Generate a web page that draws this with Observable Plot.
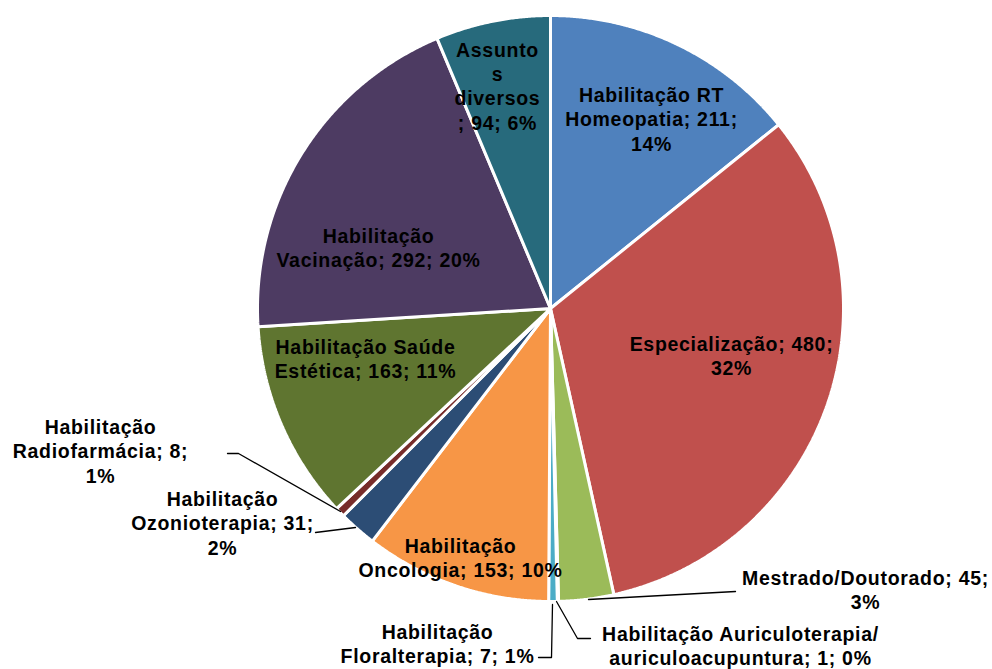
<!DOCTYPE html>
<html><head><meta charset="utf-8">
<script src="https://cdn.jsdelivr.net/npm/d3@7"></script>
<script src="https://cdn.jsdelivr.net/npm/@observablehq/plot@0.6"></script>
<style>body{margin:0;background:#fff}</style>
</head><body><div id="chart"></div>
<script>
const categories = ["Habilitação RT Homeopatia","Especialização","Mestrado/Doutorado","Habilitação Auriculoterapia/ auriculoacupuntura","Habilitação Floralterapia","Habilitação Oncologia","Habilitação Ozonioterapia","Habilitação Radiofarmácia","Habilitação Saúde Estética","Habilitação Vacinação","Assuntos diversos"];
const values = [211,480,45,1,7,153,31,8,163,292,94];
const percents = ["14%","32%","3%","0%","1%","10%","2%","1%","11%","20%","6%"];
const colors = ["#4F81BD","#C0504D","#9BBB59","#8064A2","#4BACC6","#F79646","#2C4D75","#772C2A","#5F7530","#4D3B62","#276A7C"];
// label text as wrapped in the chart
const labelTexts = [
  "Habilitação RT\nHomeopatia; 211;\n14%",
  "Especialização; 480;\n32%",
  "Mestrado/Doutorado; 45;\n3%",
  "Habilitação Auriculoterapia/\nauriculoacupuntura; 1; 0%",
  "Habilitação\nFloralterapia; 7; 1%",
  "Habilitação\nOncologia; 153; 10%",
  "Habilitação\nOzonioterapia; 31;\n2%",
  "Habilitação\nRadiofarmácia; 8;\n1%",
  "Habilitação Saúde\nEstética; 163; 11%",
  "Habilitação\nVacinação; 292; 20%",
  "Assunto\ns\ndiversos\n; 94; 6%"
];

// layout
const W = 992, H = 669, CX = 550, CY = 308, R = 293;
const labelPos = [[651,118],[731,355],[865,589],[740,645],[437,643],[460,557],[222,522],[100,450],[365,358],[378,247],[497,85]];
const leaders = [
  [[588,599],[735,591]],
  [[556,601],[577,638],[590,638]],
  [[552,604],[551,657],[538,657]],
  [[355,527],[315,532]],
  [[340,511],[238,453],[227,453]]
];

const pie = d3.pie().sort(null).value(d => d)(values);
const slicePts = [];
pie.forEach((a, i) => {
  slicePts.push({x: CX, y: CY, k: i});
  const n = Math.max(2, Math.ceil((a.endAngle - a.startAngle) / 0.005));
  for (let j = 0; j <= n; j++) {
    const t = a.startAngle + (a.endAngle - a.startAngle) * j / n;
    slicePts.push({x: CX + R * Math.sin(t), y: CY - R * Math.cos(t), k: i});
  }
  slicePts.push({x: CX, y: CY, k: i});
});
const leaderPts = leaders.flatMap((l, i) => l.map(p => ({x: p[0], y: p[1], k: i})));
const labels = labelTexts.map((t, i) => ({x: labelPos[i][0], y: labelPos[i][1], t}));

const chart = Plot.plot({
  width: W, height: H,
  margin: 0,
  x: {domain: [0, W], range: [0, W], axis: null},
  y: {domain: [0, H], range: [0, H], axis: null},
  style: {fontFamily: "'Liberation Sans', Arial, sans-serif"},
  marks: [
    Plot.line(slicePts, {x: "x", y: "y", z: "k", fill: d => colors[d.k], stroke: "white", strokeWidth: 3, strokeLinejoin: "miter", curve: "linear"}),
    Plot.line(leaderPts, {x: "x", y: "y", z: "k", stroke: "black", strokeWidth: 1.3}),
    Plot.text(labels, {x: "x", y: "y", text: "t", fontSize: 19.5, fontWeight: "bold", fill: "black", lineHeight: 1.25, textAnchor: "middle", style: "letter-spacing:0.7px"})
  ]
});
chart.querySelectorAll("text").forEach(t => t.style.letterSpacing = "0.7px");
document.getElementById("chart").appendChild(chart);
</script>
</body></html>
